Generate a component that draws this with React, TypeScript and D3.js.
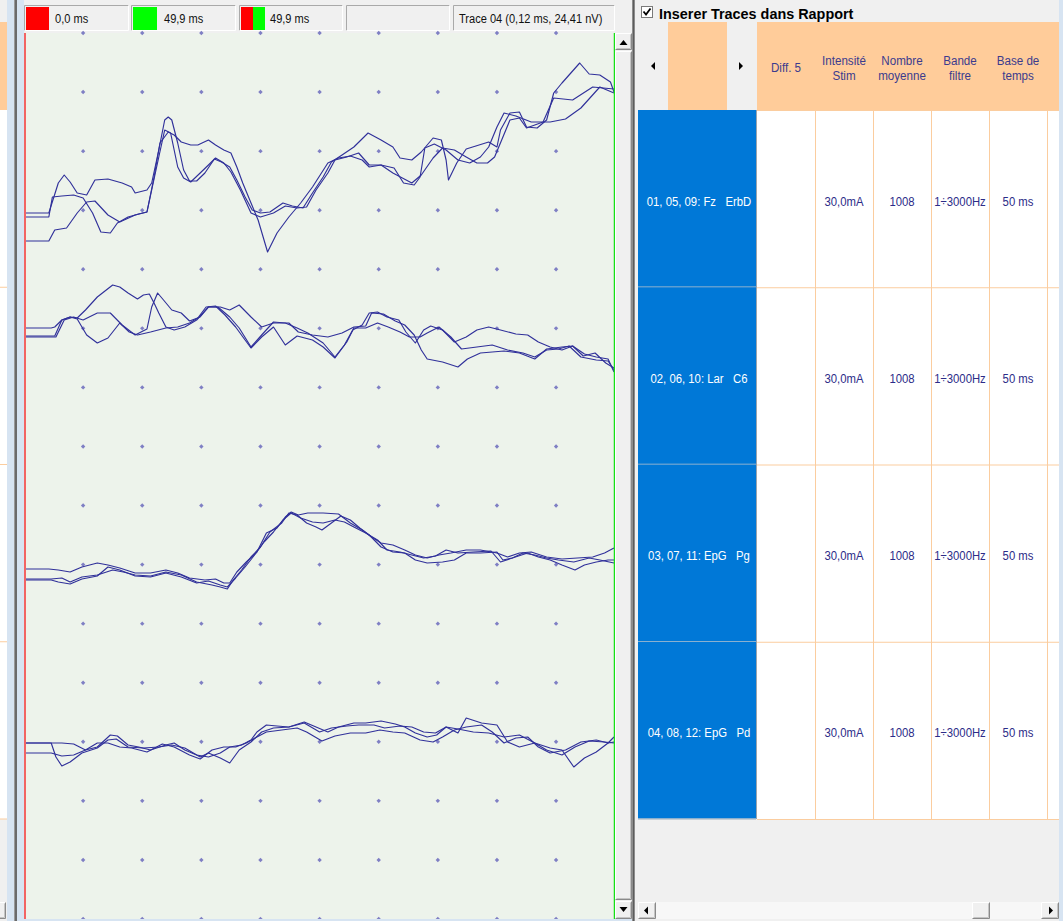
import React, { useEffect } from 'react';
import * as d3 from 'd3';

// ---- page / panel geometry -------------------------------------------------
const W = 1063;
const H = 921;
const PLOT = { left: 24, right: 614, top: 33, bottom: 919 };
const GRID_ROWS = 15;
const TABLE = { left: 638, top: 22, headerBottom: 110, rowH: 177.25, right: 1059 };

// ---- time base ---------------------------------------------------------------
const timeDomain: [number, number] = [0, 49.9]; // ms
const gridTimes = [5, 10, 15, 20, 25, 30, 35, 40, 45]; // ms
const cursorStart = 0.0; // ms (red cursor)
const cursorEnd = 49.9; // ms (green cursor)
const traceInfo = 'Trace 04 (0,12 ms, 24,41 nV)';

// ---- channel zero lines (px) and gain (px per unit) ------------------------------
const channelBaselines = [213, 330, 570, 745];
const gainPxPerUnit = 10;

// ---- averaged traces: [time ms, amplitude] ---------------------------------------
// Fz - ErbD
const fzErbd01: [number, number][] = [[0,0],[2.1,0],[2.9,3.0],[3.4,3.8],[3.9,3.1],[4.5,2.0],[5.3,1.8],[6.0,3.3],[7.1,3.4],[8.3,3.0],[9.1,2.6],[9.4,2.0],[10.4,2.3],[10.8,3.0],[11.4,6.3],[11.9,9.3],[12.2,9.6],[12.5,9.3],[13.0,7.0],[13.5,4.3],[14.0,3.2],[14.6,3.2],[15.3,4.0],[16.1,5.4],[16.7,5.1],[17.4,4.6],[18.0,3.3],[18.7,1.6],[19.3,0.3],[20.0,0],[20.8,0.1],[21.9,1.0],[22.7,0.7],[23.6,0.5],[24.4,2.0],[25.3,3.6],[26.0,5.1],[26.9,5.8],[27.9,6.6],[29.1,8.0],[30.2,7.3],[31.2,6.6],[31.8,5.5],[32.8,5.3],[33.6,6.1],[34.6,7.5],[35.3,7.3],[35.7,5.3],[35.9,3.3],[36.6,5.0],[37.4,6.4],[39.3,7.1],[40.0,6.6],[40.3,8.3],[41.1,10.0],[41.9,10.1],[42.5,8.6],[43.4,8.5],[44.2,9.3],[44.8,12.0],[45.5,13.0],[47.0,15.0],[47.8,13.9],[48.7,13.8],[49.6,13.1],[49.9,12.1]];
const fzErbd05: [number, number][] = [[0,-0.4],[2.1,-0.4],[2.4,1.6],[3.2,1.7],[4.2,1.8],[5.0,1.5],[5.8,0],[6.5,-1.9],[7.3,-2.0],[7.9,-1.0],[8.8,-0.4],[9.7,-0.1],[10.4,0.1],[10.8,2.3],[11.4,5.6],[11.9,8.3],[12.4,8.0],[13.0,4.6],[13.5,3.5],[14.1,3.1],[14.9,4.0],[15.6,4.8],[16.2,5.5],[16.9,5.0],[17.5,4.1],[18.3,2.3],[19.2,0],[20.0,-0.4],[21.1,0],[22.1,0.7],[23.1,0.5],[23.9,0.6],[24.7,2.3],[25.7,4.0],[26.3,5.3],[27.3,5.6],[28.3,6.0],[29.2,4.8],[30.2,4.8],[31.2,4.0],[32.0,3.5],[32.8,3.0],[33.6,3.8],[34.6,5.5],[35.4,6.5],[36.4,6.3],[37.4,5.6],[38.3,5.0],[39.2,5.0],[39.8,5.6],[40.4,7.3],[41.1,9.3],[41.9,9.5],[42.5,8.5],[43.9,9.1],[44.8,11.5],[46.4,11.3],[48.1,12.6],[49.9,12.4]];
const fzErbd09: [number, number][] = [[0,-2.8],[2.1,-2.8],[2.6,-1.7],[3.6,-1.5],[4.5,0],[5.3,1.1],[6.0,1.2],[7.1,-0.2],[8.1,-0.9],[9.4,-0.2],[10.4,0.1],[11.0,3.6],[11.5,7.0],[12.2,8.1],[12.7,7.8],[13.3,7.1],[14.1,6.8],[14.7,6.8],[15.6,7.3],[16.2,6.8],[16.9,6.3],[17.5,6.0],[18.0,4.6],[18.5,3.0],[19.2,1.0],[19.8,-0.7],[20.6,-3.9],[21.4,-2.0],[22.4,-0.4],[23.4,1.0],[24.4,2.6],[25.7,5.0],[26.6,5.5],[27.6,5.7],[28.6,5.3],[29.2,4.6],[30.2,4.8],[31.3,4.5],[32.1,3.0],[33.0,2.8],[33.5,3.6],[33.9,6.5],[34.7,6.9],[35.7,6.3],[36.7,5.3],[37.7,5.0],[38.6,5.6],[39.3,6.6],[40.0,8.6],[40.6,10.0],[41.6,9.7],[42.9,9.1],[44.5,9.1],[45.8,9.4],[47.1,10.5],[48.7,12.6],[49.9,12.0]];

// Lar - C6
const larC602: [number, number][] = [[0,0.2],[2.3,0.2],[2.6,0.3],[3.2,1.0],[3.9,1.3],[4.5,1.2],[5.2,2.0],[6.2,3.3],[7.5,4.5],[8.1,4.3],[8.8,3.7],[9.6,3.1],[10.1,3.5],[10.6,3.6],[11.0,2.7],[11.4,1.7],[12.0,0.3],[12.7,0],[13.6,0.3],[14.6,1.0],[15.6,2.3],[16.6,2.3],[17.4,2.0],[18.2,2.5],[19.2,1.3],[20.1,0.3],[21.1,0.7],[22.4,0.7],[23.2,-0.2],[24.4,-0.5],[25.7,-0.7],[26.9,-0.3],[27.9,0.3],[28.9,0.4],[29.4,1.7],[30.4,1.6],[31.4,0.9],[32.2,0.5],[33.0,-0.5],[33.6,-2.0],[34.1,-2.9],[35.4,-3.2],[36.7,-3.7],[37.5,-2.9],[38.6,-2.3],[40.6,-2.1],[41.9,-2.3],[43.2,-2.9],[44.2,-1.9],[45.5,-1.7],[46.4,-1.6],[47.3,-2.6],[48.3,-2.3],[49.2,-3.3],[49.9,-3.8]];
const larC606: [number, number][] = [[0,-0.6],[2.6,-0.6],[3.2,1.0],[3.9,1.3],[4.5,1.1],[5.3,-0.5],[6.2,-1.3],[7.1,-0.8],[8.1,0.7],[8.9,-0.2],[9.6,-0.5],[10.7,-0.2],[12.0,0.2],[13.0,0.3],[14.0,0.7],[14.7,1.2],[15.4,2.3],[16.2,2.4],[17.0,1.5],[17.9,0.3],[18.7,-1.0],[19.2,-1.8],[20.1,-0.7],[21.1,0.3],[22.1,-1.5],[23.1,-0.6],[24.4,-1.0],[25.3,-1.7],[26.3,-2.8],[27.3,-1.2],[27.9,0.2],[28.9,0.2],[29.9,0.7],[30.8,0.3],[31.8,-0.2],[32.6,-0.7],[33.5,-0.7],[34.1,-0.3],[35.1,0.3],[36.1,-0.7],[37.0,-1.9],[38.3,-1.7],[39.6,-1.5],[40.9,-2.0],[42.2,-2.3],[43.2,-2.7],[44.2,-2.0],[45.2,-1.9],[46.1,-1.6],[47.1,-2.7],[48.4,-3.0],[49.4,-3.1],[49.9,-4.0]];
const larC610: [number, number][] = [[0,-0.7],[2.7,-0.7],[3.4,1.0],[4.2,1.3],[5.0,1.0],[6.2,1.7],[7.3,1.7],[8.3,0.5],[9.4,-0.5],[10.4,0.1],[10.8,2.3],[11.3,3.7],[11.8,3.0],[12.5,2.0],[13.3,1.7],[14.0,0.9],[14.9,1.3],[15.6,2.3],[16.4,2.3],[17.4,1.3],[18.2,0.2],[19.2,-1.7],[20.1,-0.5],[21.1,0.8],[22.1,0.7],[23.1,0.2],[24.0,-0.3],[25.3,-1.3],[26.3,-2.7],[27.1,-1.5],[27.8,0],[28.6,0.5],[29.2,1.7],[29.9,1.8],[30.7,1.3],[31.7,1.0],[32.3,-0.2],[33.1,-1.3],[33.8,0],[34.4,0.4],[35.4,0],[36.4,-1.2],[37.4,-0.7],[38.3,0],[39.3,0.3],[40.3,0],[41.6,-0.4],[42.6,-0.5],[43.5,-1.2],[44.5,-1.7],[45.5,-2.0],[46.4,-1.6],[47.4,-2.4],[48.4,-2.7],[49.4,-2.9],[49.9,-4.2]];

// EpG - Pg
const epgPg03: [number, number][] = [[0,0.1],[2.1,0.1],[2.9,0],[3.9,-0.2],[4.9,0.3],[6.2,0.7],[7.1,0.5],[8.1,0.2],[9.4,-0.3],[10.7,-0.3],[12.0,0],[13.0,-0.3],[14.0,-0.8],[15.3,-1.0],[16.2,-0.9],[16.9,-1.3],[17.4,-1.3],[18.0,-0.2],[18.8,0.8],[19.7,1.8],[20.5,3.7],[21.4,4.2],[22.1,5.3],[22.6,5.8],[23.2,5.5],[24.0,5.7],[25.3,5.7],[26.6,5.6],[27.6,4.7],[28.6,4.0],[29.4,3.3],[30.2,2.7],[31.2,2.5],[32.2,2.0],[33.1,1.5],[34.1,1.2],[35.1,1.5],[36.1,1.7],[37.4,2.0],[38.6,2.0],[40.0,1.7],[40.9,1.3],[41.9,1.7],[42.9,1.8],[44.2,1.3],[45.5,1.1],[46.8,1.2],[48.1,1.3],[49.1,1.7],[49.9,2.2]];
const epgPg07: [number, number][] = [[0,-0.9],[2.3,-0.9],[3.2,-0.8],[3.9,-1.2],[4.9,-0.7],[6.2,-0.5],[7.5,0],[8.4,-0.2],[9.4,-0.5],[10.7,-0.6],[12.0,-0.2],[13.3,-0.5],[14.6,-1.2],[15.9,-1.5],[16.6,-1.7],[17.2,-1.9],[17.7,-1.0],[18.4,0],[19.2,1.3],[20.0,2.3],[20.8,3.8],[21.8,4.7],[22.4,5.7],[23.1,5.5],[23.9,4.7],[24.7,4.3],[25.2,4.0],[26.0,4.7],[26.8,5.4],[27.6,5.0],[28.4,4.2],[29.2,3.5],[30.2,2.3],[31.2,1.8],[32.2,1.7],[33.1,1.0],[34.1,0.7],[35.4,0.8],[36.4,1.0],[37.4,1.7],[38.6,1.7],[40.0,1.8],[40.5,1.0],[41.3,1.2],[42.6,1.7],[43.5,1.3],[44.5,1.0],[45.5,0.5],[46.6,0],[47.4,0.5],[48.4,0.8],[49.4,1.0],[49.9,1.0]];
const epgPg11: [number, number][] = [[0,-1.0],[2.3,-1.0],[2.9,-1.2],[3.9,-1.4],[4.9,-0.9],[6.2,-0.6],[7.1,0.3],[8.1,0],[9.4,-0.6],[10.7,-0.7],[12.0,-0.3],[13.3,-0.7],[14.6,-1.3],[15.6,-1.1],[16.6,-1.5],[17.2,-1.7],[17.9,-0.8],[18.7,0.3],[19.5,1.5],[20.3,2.8],[21.1,3.8],[21.9,5.0],[22.6,5.7],[23.4,5.2],[24.4,4.8],[25.3,4.7],[26.3,5.0],[27.1,4.8],[27.9,4.3],[28.9,3.7],[29.9,3.0],[30.7,2.0],[31.8,1.8],[32.8,1.5],[33.8,1.2],[34.8,1.4],[35.7,2.0],[36.7,1.7],[38.0,1.8],[39.5,1.9],[40.3,0.8],[41.3,1.2],[42.2,1.7],[43.2,1.5],[44.2,1.2],[45.2,1.0],[46.5,0.8],[47.8,1.2],[48.7,1.0],[49.9,0.7]];

// EpG - Pd
const epgPd04: [number, number][] = [[0,0.2],[2.3,0.2],[3.2,0.2],[4.2,0.1],[5.2,-0.5],[6.2,-0.2],[7.3,1.0],[7.9,0.9],[8.8,0],[9.7,-0.2],[10.7,-0.5],[12.0,0],[12.7,0.2],[13.6,-0.5],[14.6,-1.0],[15.6,-1.2],[16.6,-0.8],[17.4,-0.2],[18.4,0],[19.2,0.5],[19.7,1.3],[20.5,2.0],[21.4,1.9],[22.4,1.8],[23.7,2.3],[24.7,1.8],[25.7,1.3],[26.6,1.8],[27.9,2.2],[28.9,2.2],[30.2,2.4],[31.4,2.1],[32.2,1.8],[33.1,1.2],[34.1,0.8],[34.9,1.0],[35.7,1.8],[36.7,1.2],[37.4,2.7],[38.7,2.2],[40.0,2.0],[40.9,0.3],[41.9,-0.2],[43.2,0.2],[44.2,-0.5],[45.5,-1.0],[46.6,-0.2],[47.8,0.4],[49.1,0.3],[49.9,0.2]];
const epgPd08: [number, number][] = [[0,0.2],[2.3,0.2],[2.7,-1.2],[3.2,-2.1],[3.9,-1.7],[4.9,-0.8],[6.2,-0.3],[7.1,0.5],[7.8,0.6],[8.8,-0.2],[10.1,-0.3],[11.4,-0.2],[12.5,0],[13.6,-0.3],[14.9,-1.2],[15.6,-0.8],[16.6,-1.3],[17.4,-1.8],[18.2,-0.5],[19.2,0.3],[20.1,1.3],[21.1,1.7],[22.4,1.8],[23.7,2.2],[25.0,1.3],[26.0,1.7],[27.3,1.9],[28.3,2.0],[29.6,2.0],[30.5,1.7],[31.8,1.9],[32.8,1.8],[33.8,1.3],[34.8,1.2],[35.7,1.8],[36.7,1.6],[38.0,1.3],[39.3,1.2],[40.6,0.8],[41.9,1.0],[43.2,0.2],[44.5,-0.3],[45.5,-0.5],[46.5,-2.2],[47.4,-1.3],[48.4,-0.7],[49.4,0.2],[49.9,0.3]];
const epgPd12: [number, number][] = [[0,-0.8],[2.3,-0.8],[3.2,-1.1],[4.2,-1.0],[5.2,-0.5],[6.2,0.2],[7.1,0.2],[8.1,-0.2],[9.1,-0.3],[10.4,-0.7],[11.7,0.1],[12.7,-0.2],[14.0,-1.0],[14.9,-1.4],[15.9,-0.5],[16.9,-0.2],[17.9,-0.2],[18.8,0.2],[19.7,0.8],[20.5,1.3],[21.8,1.5],[23.1,1.7],[23.9,1.3],[25.2,0.4],[26.3,0.9],[27.6,1.2],[28.9,1.2],[30.1,1.5],[31.2,1.3],[32.2,1.2],[33.5,0.5],[34.6,0.3],[35.4,0.8],[36.4,1.5],[37.4,1.8],[38.7,2.0],[39.6,1.3],[40.6,0.2],[41.6,0.7],[42.6,0.8],[43.5,-0.2],[44.5,-0.8],[45.8,-0.5],[47.1,0.3],[48.4,0.5],[49.4,0.2],[49.9,0.8]];

// ---- table contents ---------------------------------------------------------------
const channelLabels = ['01, 05, 09: Fz   ErbD', '02, 06, 10: Lar   C6', '03, 07, 11: EpG   Pg', '04, 08, 12: EpG   Pd'];
const headerCols = [['Diff. 5'], ['Intensité', 'Stim'], ['Nombre', 'moyenne'], ['Bande', 'filtre'], ['Base de', 'temps']];
const stimIntensity = [30.0, 30.0, 30.0, 30.0]; // mA
const averagesCount = [1008, 1008, 1008, 1008];
const filterBand = ['1÷3000Hz', '1÷3000Hz', '1÷3000Hz', '1÷3000Hz'];
const timeBase = [50, 50, 50, 50]; // ms

const channels = [
  { label: channelLabels[0], traces: [fzErbd01, fzErbd05, fzErbd09] },
  { label: channelLabels[1], traces: [larC602, larC606, larC610] },
  { label: channelLabels[2], traces: [epgPg03, epgPg07, epgPg11] },
  { label: channelLabels[3], traces: [epgPd04, epgPd08, epgPd12] },
];

// ---- styling -------------------------------------------------------------------
const SANS = "'Liberation Sans', Arial, sans-serif";
const C = {
  win: '#f0f0f0',
  frame: '#d7e4f2',
  plot: '#edf3eb',
  trace: '#30309a',
  dot: '#7f7fc4',
  cursorRed: '#f26464',
  cursorGreen: '#16e016',
  swatchRed: '#ff0000',
  swatchGreen: '#00ff00',
  orange: '#ffcc9a',
  orangeLine: '#fbcd9f',
  blue: '#0078d7',
  headText: '#3b3b8e',
  cellText: '#2c2c88',
};

const fmtComma = (v: number, digits: number) => v.toFixed(digits).replace('.', ',');

// horizontally condensed text, as drawn by the acquisition software
function NText({
  x, y, anchor = 'start', size = 13.5, fill = '#000', sx = 0.84, weight = 'normal', children,
}: {
  x: number; y: number; anchor?: 'start' | 'middle' | 'end'; size?: number; fill?: string; sx?: number; weight?: string; children: React.ReactNode;
}) {
  return (
    <text
      transform={`translate(${x},${y}) scale(${sx},1)`}
      textAnchor={anchor}
      fontFamily={SANS}
      fontSize={size}
      fontWeight={weight}
      fill={fill}
      style={{ whiteSpace: 'pre' }}
    >
      {children}
    </text>
  );
}

function Raised({ x, y, w, h }: { x: number; y: number; w: number; h: number }) {
  return (
    <g>
      <rect x={x} y={y} width={w} height={h} fill={C.win} />
      <path d={`M${x + 0.5},${y + h - 0.5}V${y + 0.5}H${x + w - 0.5}`} stroke="#ffffff" fill="none" />
      <path d={`M${x + 0.5},${y + h - 0.5}H${x + w - 0.5}V${y + 0.5}`} stroke="#8a8a8a" fill="none" />
      <path d={`M${x + 1.5},${y + h - 1.5}H${x + w - 1.5}V${y + 1.5}`} stroke="#c4c4c4" fill="none" />
    </g>
  );
}

function Sunken({ x, y, w, h }: { x: number; y: number; w: number; h: number }) {
  return (
    <g>
      <rect x={x} y={y} width={w} height={h} fill={C.win} />
      <path d={`M${x + 0.5},${y + h - 0.5}V${y + 0.5}H${x + w - 0.5}`} stroke="#a9a9a9" fill="none" />
      <path d={`M${x + 0.5},${y + h - 0.5}H${x + w - 0.5}V${y + 0.5}`} stroke="#ffffff" fill="none" />
    </g>
  );
}

export default function App() {
  useEffect(() => {
    document.body.style.margin = '0';
  }, []);

  const x = d3.scaleLinear().domain(timeDomain).range([PLOT.left, PLOT.right]);
  const rowStep = (PLOT.bottom - PLOT.top) / GRID_ROWS;
  const gridRows = d3.range(GRID_ROWS + 1).map((k) => PLOT.top + k * rowStep);

  const channelScale = (base: number) =>
    d3.scaleLinear().domain([0, 1]).range([base, base - gainPxPerUnit]);

  const dataCols = headerCols.map((_, i) => TABLE.left + 119 + i * 58);
  const rowTops = d3.range(channels.length).map((i) => TABLE.headerBottom + i * TABLE.rowH);
  const tableBottom = TABLE.headerBottom + channels.length * TABLE.rowH;

  const headerBoxes = [
    { x0: 24, x1: 129, swatches: [{ c: C.swatchRed, a: 26, b: 49 }], text: `${fmtComma(cursorStart, 1)} ms`, tx: 55 },
    { x0: 131, x1: 236, swatches: [{ c: C.swatchGreen, a: 133, b: 157 }], text: `${fmtComma(cursorEnd, 1)} ms`, tx: 164 },
    { x0: 239, x1: 343, swatches: [{ c: C.swatchRed, a: 241, b: 253 }, { c: C.swatchGreen, a: 253, b: 265 }], text: `${fmtComma(cursorEnd - cursorStart, 1)} ms`, tx: 270 },
    { x0: 346, x1: 450, swatches: [], text: '', tx: 0 },
    { x0: 453, x1: 615, swatches: [], text: traceInfo, tx: 459 },
  ];

  const diamond = (cx: number, cy: number) => `M${cx},${cy - 2.2}L${cx + 2.2},${cy}L${cx},${cy + 2.2}L${cx - 2.2},${cy}Z`;

  return (
    <svg width={W} height={H} style={{ position: 'absolute', left: 0, top: 0, display: 'block' }}>
      {/* window background */}
      <rect x={0} y={0} width={W} height={H} fill={C.win} />

      {/* sliver of the neighbouring pane */}
      <rect x={0} y={TABLE.top} width={7} height={TABLE.headerBottom - TABLE.top} fill={C.orange} />
      <rect x={0} y={TABLE.headerBottom} width={7} height={tableBottom - TABLE.headerBottom} fill="#ffffff" />
      {rowTops.slice(1).concat([tableBottom]).map((y, i) => (
        <line key={i} x1={0} x2={7} y1={y} y2={y} stroke={C.orangeLine} />
      ))}
      <Raised x={-8} y={902} w={14} h={17} />

      {/* splitter frame */}
      <rect x={7} y={0} width={17} height={H} fill={C.frame} />
      <rect x={14} y={0} width={3} height={H} fill="#6b6b6b" />
      <rect x={14} y={0} width={1} height={H} fill="#9a9a9a" />

      {/* cursor header strip */}
      <rect x={24} y={0} width={608} height={PLOT.top} fill={C.win} />
      {headerBoxes.map((b, i) => (
        <g key={i}>
          <Sunken x={b.x0} y={5} w={b.x1 - b.x0} h={26} />
          {b.swatches.map((s, j) => (
            <rect key={j} x={s.a} y={7} width={s.b - s.a} height={23} fill={s.c} />
          ))}
          {b.text && (
            <NText x={b.tx} y={23} size={13.5} fill="#111" sx={0.82}>
              {b.text}
            </NText>
          )}
        </g>
      ))}

      {/* trace area */}
      <rect x={PLOT.left} y={PLOT.top} width={PLOT.right - PLOT.left} height={PLOT.bottom - PLOT.top} fill={C.plot} />
      <g>
        {gridRows.map((gy, r) =>
          gridTimes.map((t, c) => <path key={`${r}-${c}`} d={diamond(x(t), gy)} fill={C.dot} />)
        )}
      </g>
      <g fill="none" stroke={C.trace} strokeWidth={1.15} strokeLinejoin="round">
        {channels.map((ch, i) => {
          const y = channelScale(channelBaselines[i]);
          const line = d3
            .line<[number, number]>()
            .x((d) => x(d[0]))
            .y((d) => y(d[1]));
          return ch.traces.map((tr, j) => <path key={`${i}-${j}`} d={line(tr) ?? ''} />);
        })}
      </g>
      <line x1={x(cursorStart) + 1} x2={x(cursorStart) + 1} y1={PLOT.top} y2={PLOT.bottom} stroke={C.cursorRed} strokeWidth={2} />
      <line x1={x(cursorEnd) + 0.5} x2={x(cursorEnd) + 0.5} y1={PLOT.top} y2={PLOT.bottom} stroke={C.cursorGreen} strokeWidth={1.5} />
      <rect x={PLOT.left} y={PLOT.bottom} width={608} height={H - PLOT.bottom} fill={C.frame} />

      {/* vertical scrollbar */}
      <rect x={615} y={PLOT.top} width={17} height={PLOT.bottom - PLOT.top} fill={C.win} />
      <Raised x={615} y={PLOT.top} w={17} h={17} />
      <path d="M619.5,45L623.5,40L627.5,45Z" fill="#000" />
      <Raised x={615} y={51} w={17} h={849} />
      <Raised x={615} y={901} w={17} h={18} />
      <path d="M619.5,907L623.5,912L627.5,907Z" fill="#000" />

      {/* pane divider */}
      <rect x={632} y={0} width={3} height={H} fill="#8d8d8d" />
      <rect x={633} y={0} width={1} height={H} fill="#5c5c5c" />

      {/* right pane: title row */}
      <rect x={641.5} y={6.5} width={11} height={11} fill="#fff" stroke="#7a7a7a" />
      <path d="M643.5,11.5L646,14.5L650.5,8.5" stroke="#000" strokeWidth={1.8} fill="none" />
      <text x={659} y={19} fontFamily={SANS} fontWeight="bold" fontSize={14.4} fill="#000">
        Inserer Traces dans Rapport
      </text>

      {/* table header row */}
      <rect x={TABLE.left} y={TABLE.top} width={30} height={TABLE.headerBottom - TABLE.top} fill={C.win} />
      <rect x={TABLE.left + 30} y={TABLE.top} width={59} height={TABLE.headerBottom - TABLE.top} fill={C.orange} />
      <rect x={TABLE.left + 89} y={TABLE.top} width={30} height={TABLE.headerBottom - TABLE.top} fill={C.win} />
      <path d="M651,66L655,62V70Z" fill="#000" />
      <path d="M743,66L739,62V70Z" fill="#000" />
      <rect x={TABLE.left + 119} y={TABLE.top} width={TABLE.right - TABLE.left - 119} height={TABLE.headerBottom - TABLE.top} fill={C.orange} />
      {headerCols.map((lines, i) =>
        lines.map((ln, k) => (
          <NText key={`${i}-${k}`} x={dataCols[i] + 29} y={lines.length === 1 ? 71.5 : 65 + k * 15} anchor="middle" size={13.5} fill={C.headText} sx={0.86}>
            {ln}
          </NText>
        ))
      )}

      {/* table body */}
      <rect x={TABLE.left + 118} y={TABLE.headerBottom} width={TABLE.right - TABLE.left - 118} height={tableBottom - TABLE.headerBottom} fill="#ffffff" />
      {channels.map((ch, i) => {
        const top = rowTops[i];
        const cy = top + TABLE.rowH / 2 + 7;
        return (
          <g key={i}>
            <rect x={TABLE.left} y={top} width={118} height={TABLE.rowH} fill={C.blue} />
            <line x1={TABLE.left} x2={TABLE.left + 118} y1={top + TABLE.rowH} y2={top + TABLE.rowH} stroke="#b9c3cc" strokeWidth={1.5} />
            <NText x={TABLE.left + 61} y={cy} anchor="middle" fill="#ffffff" sx={0.84}>
              {ch.label}
            </NText>
            <NText x={dataCols[1] + 29} y={cy} anchor="middle" fill={C.cellText}>
              {`${fmtComma(stimIntensity[i], 1)}mA`}
            </NText>
            <NText x={dataCols[2] + 29} y={cy} anchor="middle" fill={C.cellText}>
              {String(averagesCount[i])}
            </NText>
            <NText x={dataCols[3] + 29} y={cy} anchor="middle" fill={C.cellText}>
              {filterBand[i]}
            </NText>
            <NText x={dataCols[4] + 29} y={cy} anchor="middle" fill={C.cellText}>
              {`${timeBase[i]} ms`}
            </NText>
          </g>
        );
      })}
      <line x1={TABLE.left + 118.5} x2={TABLE.left + 118.5} y1={TABLE.headerBottom} y2={tableBottom} stroke="#9aa4ad" />
      {dataCols.slice(1).concat([dataCols[4] + 58]).map((cx, i) => (
        <line key={i} x1={cx + 0.5} x2={cx + 0.5} y1={TABLE.headerBottom} y2={tableBottom} stroke={C.orangeLine} />
      ))}
      {[TABLE.headerBottom, ...rowTops.slice(1), tableBottom].map((ry, i) => (
        <line key={i} x1={TABLE.left + 119} x2={TABLE.right} y1={ry + 0.5} y2={ry + 0.5} stroke={C.orangeLine} />
      ))}

      {/* horizontal scrollbar */}
      <rect x={TABLE.left} y={902} width={TABLE.right - TABLE.left} height={17} fill="#f7f7f7" />
      <Raised x={TABLE.left} y={902} w={18} h={17} />
      <path d="M644,910.5L648,906.5V914.5Z" fill="#000" />
      <Raised x={972} y={902} w={18} h={17} />
      <Raised x={1041} y={902} w={18} h={17} />
      <path d="M1053,910.5L1049,906.5V914.5Z" fill="#000" />

      {/* right frame */}
      <rect x={TABLE.right} y={0} width={W - TABLE.right} height={H} fill={C.frame} />
    </svg>
  );
}
